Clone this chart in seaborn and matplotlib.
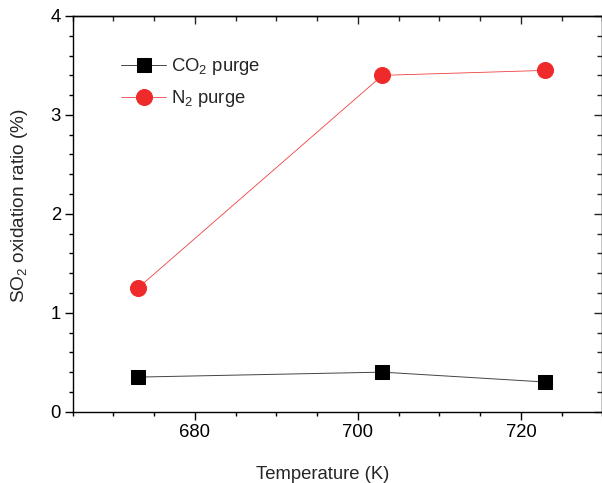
import numpy as np
import pandas as pd
import matplotlib
matplotlib.use("Agg")
import matplotlib.pyplot as plt
from matplotlib.ticker import MultipleLocator
import seaborn as sns

# Oxidation ratio of SO2 at three temperatures, for two purge gases
temperature_k = [673, 703, 723]
co2_purge = [0.35, 0.40, 0.30]
n2_purge = [1.25, 3.40, 3.45]
series_labels = ["CO$_2$ purge", "N$_2$ purge"]

sns.set_style("ticks")
plt.rcParams["font.family"] = ["Liberation Sans", "DejaVu Sans"]
plt.rcParams["mathtext.fontset"] = "custom"
plt.rcParams["mathtext.rm"] = "Liberation Sans"
plt.rcParams["mathtext.it"] = "Liberation Sans"
plt.rcParams["mathtext.default"] = "regular"

FS = 13.3

df = pd.DataFrame({
    "T": temperature_k * 2,
    "ratio": co2_purge + n2_purge,
    "gas": [series_labels[0]] * 3 + [series_labels[1]] * 3,
})

fig = plt.figure(figsize=(6.02, 4.83), dpi=100)
ax = fig.add_axes([0.1208, 0.1476, 0.8800, 0.8193])

sns.lineplot(data=df[df.gas == series_labels[0]], x="T", y="ratio", ax=ax,
             color="#444444", lw=0.7, marker="s", markersize=10,
             markerfacecolor="black", markeredgecolor="black",
             label=series_labels[0])
sns.lineplot(data=df[df.gas == series_labels[1]], x="T", y="ratio", ax=ax,
             color="#F04040", lw=0.6, marker="o", markersize=11.5,
             markerfacecolor="#EE2A2A", markeredgecolor="#EE2A2A",
             label=series_labels[1])

ax.set_xlim(665, 730)
ax.set_ylim(0, 4)
ax.xaxis.set_major_locator(MultipleLocator(20))
ax.xaxis.set_minor_locator(MultipleLocator(5))
ax.yaxis.set_major_locator(MultipleLocator(1))
ax.yaxis.set_minor_locator(MultipleLocator(0.2))

for s in ax.spines.values():
    s.set_linewidth(1.0)
    s.set_color("black")

ax.tick_params(axis="both", which="both", colors="black", width=1.0,
               labelsize=FS, direction="out", pad=3)
ax.tick_params(which="major", length=5.5)
ax.tick_params(which="minor", length=3)
ax.tick_params(axis="x", bottom=True, top=False)
ax.tick_params(axis="y", left=True, right=False)

# mirrored ticks on top and right, pointing inward
top = ax.secondary_xaxis("top")
top.xaxis.set_major_locator(MultipleLocator(20))
top.xaxis.set_minor_locator(MultipleLocator(5))
top.tick_params(which="both", direction="in", labeltop=False, width=1.0)
top.tick_params(which="major", length=6)
top.tick_params(which="minor", length=3.5)
top.spines["top"].set_linewidth(1.0)
right = ax.secondary_yaxis("right")
right.yaxis.set_major_locator(MultipleLocator(1))
right.yaxis.set_minor_locator(MultipleLocator(0.2))
right.tick_params(which="both", direction="in", labelright=False, width=1.0)
right.tick_params(which="major", length=6)
right.tick_params(which="minor", length=3.5)

ax.set_xlabel("Temperature (K)", fontsize=FS, labelpad=18)
ax.xaxis.label.set_x(0.472)
ax.set_ylabel("SO$_2$ oxidation ratio (%)", fontsize=13.7, labelpad=15)
ax.yaxis.label.set_y(0.52)

ax.legend(loc="upper left", bbox_to_anchor=(0.060, 0.940), frameon=False,
          fontsize=FS, handlelength=2.45, labelspacing=0.6, handletextpad=0.25)

fig.savefig("out.png", dpi=100)
